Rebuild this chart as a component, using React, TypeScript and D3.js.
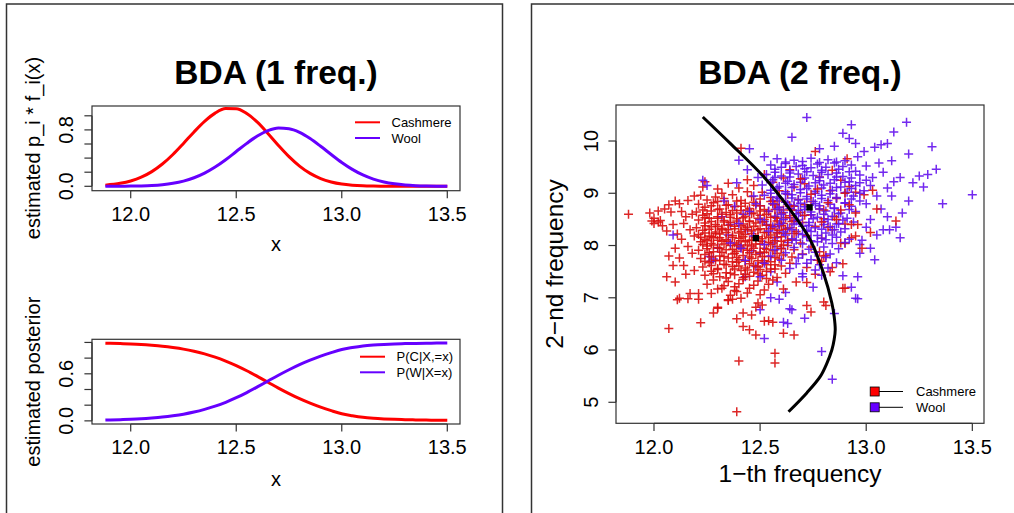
import React from "react";
import * as d3 from "d3";

const FONT = "'Liberation Sans', Arial, Helvetica, sans-serif";
const RED = "#FF0000";
const PURPLE = "#6600FF";
const SC_RED = "#DA1010";
const SC_PURPLE = "#6412EE";

const gridX = [11.88, 11.95, 12.0, 12.05, 12.1, 12.15, 12.2, 12.25, 12.3, 12.35, 12.4, 12.45, 12.5, 12.55, 12.6, 12.65, 12.7, 12.75, 12.8, 12.85, 12.9, 12.95, 13.0, 13.05, 13.1, 13.15, 13.2, 13.25, 13.3, 13.35, 13.4, 13.45, 13.5];
const cashmereDensity = [0.016, 0.042, 0.076, 0.129, 0.208, 0.316, 0.451, 0.608, 0.771, 0.921, 1.038, 1.102, 1.101, 1.032, 0.909, 0.75, 0.58, 0.421, 0.287, 0.183, 0.11, 0.062, 0.032, 0.016, 0.007, 0.003, 0.001, 0.0005, 0, 0, 0, 0, 0];
const woolDensity = [0.0003, 0.0012, 0.0028, 0.006, 0.012, 0.0235, 0.043, 0.074, 0.121, 0.187, 0.273, 0.377, 0.493, 0.609, 0.713, 0.789, 0.826, 0.817, 0.766, 0.678, 0.568, 0.451, 0.338, 0.24, 0.161, 0.102, 0.061, 0.035, 0.019, 0.0095, 0.0046, 0.0021, 0.0009];
const postCashmere = [0.99, 0.985, 0.98, 0.973, 0.963, 0.951, 0.935, 0.915, 0.888, 0.854, 0.813, 0.763, 0.705, 0.639, 0.567, 0.493, 0.418, 0.348, 0.283, 0.226, 0.175, 0.13, 0.09, 0.065, 0.045, 0.033, 0.025, 0.019, 0.015, 0.012, 0.01, 0.008, 0.007];
const postWool = [0.01, 0.015, 0.02, 0.027, 0.037, 0.049, 0.065, 0.085, 0.112, 0.146, 0.187, 0.237, 0.295, 0.361, 0.433, 0.507, 0.582, 0.652, 0.717, 0.774, 0.825, 0.87, 0.91, 0.935, 0.955, 0.967, 0.975, 0.981, 0.985, 0.988, 0.99, 0.992, 0.993];

const xTicks = [12.0, 12.5, 13.0, 13.5];
const densityYTicks = [0, 0.2, 0.4, 0.6, 0.8, 1.0];
const densityYLabels = [0, 0.8];
const postYTicks = [0, 0.2, 0.4, 0.6, 0.8, 1.0];
const postYLabels = [0, 0.6];
const densityLegend = ["Cashmere", "Wool"];
const postLegend = ["P(C|X,=x)", "P(W|X=x)"];

// ---- 2-frequency panel ----
const scatterXTicks = [12.0, 12.5, 13.0, 13.5];
const scatterYTicks = [5, 6, 7, 8, 9, 10];

const cashmere: [number, number][] = [
  [12.41, 9.86], [12.76, 9.8], [12.91, 9.66], [12.64, 9.45], [12.84, 9.44], [12.52, 9.36], [12.61, 9.29], [12.44, 9.26], [12.35, 9.19], [12.24, 9.22],
  [12.23, 9.12], [12.78, 9.31], [12.88, 9.25], [12.92, 9.13], [13.03, 9.06], [12.99, 8.97], [12.71, 9.18], [12.56, 9.21], [12.47, 9.15], [12.3, 9.08],
  [12.4, 9.1], [12.66, 9.12], [12.83, 9.05], [12.95, 9.02], [12.59, 9.05], [12.32, 9.0], [12.51, 9.02], [12.44, 9.03],
  [11.88, 8.6], [11.98, 8.62], [12.0, 8.52], [12.02, 8.66], [11.99, 8.47], [12.02, 8.45], [12.05, 8.7], [12.08, 8.64], [12.07, 8.78], [12.1, 8.85],
  [12.12, 8.8], [12.16, 8.86], [12.06, 8.28], [12.04, 8.38], [12.09, 8.4], [12.11, 8.22], [12.13, 8.12], [12.07, 7.8], [12.12, 7.76], [12.1, 7.95],
  [12.14, 7.62], [12.09, 7.62], [12.06, 7.4], [12.1, 7.3], [12.12, 6.99], [12.17, 7.08], [12.21, 7.08], [12.15, 8.55], [12.18, 8.6], [12.14, 8.42],
  [12.17, 8.3], [12.19, 8.18], [12.16, 7.98], [12.18, 7.85], [12.15, 7.45], [12.19, 7.52], [12.13, 8.65], [12.19, 8.95], [12.03, 8.48], [12.0, 8.42],
  [12.22, 8.96], [12.29, 8.93], [12.37, 8.97], [12.46, 8.94], [12.55, 8.92], [12.63, 8.98],
  [12.25, 8.87], [12.33, 8.9], [12.41, 8.86], [12.5, 8.89], [12.58, 8.85], [12.68, 8.88], [12.74, 8.84],
  [12.21, 8.79], [12.28, 8.82], [12.35, 8.78], [12.43, 8.81], [12.48, 8.77], [12.56, 8.8], [12.62, 8.83], [12.71, 8.78],
  [12.24, 8.73], [12.31, 8.7], [12.38, 8.74], [12.45, 8.71], [12.52, 8.69], [12.59, 8.73], [12.66, 8.75], [12.78, 8.7],
  [12.2, 8.64], [12.27, 8.66], [12.34, 8.63], [12.41, 8.67], [12.47, 8.62], [12.54, 8.65], [12.61, 8.68], [12.69, 8.63],
  [12.23, 8.58], [12.3, 8.55], [12.36, 8.59], [12.43, 8.56], [12.5, 8.58], [12.57, 8.54], [12.64, 8.57], [12.74, 8.59], [12.85, 8.55],
  [12.21, 8.49], [12.26, 8.52], [12.33, 8.48], [12.39, 8.51], [12.45, 8.47], [12.52, 8.5], [12.58, 8.52], [12.66, 8.48], [12.8, 8.51],
  [12.24, 8.43], [12.29, 8.4], [12.36, 8.44], [12.42, 8.41], [12.48, 8.43], [12.55, 8.39], [12.61, 8.42], [12.7, 8.44], [12.9, 8.41],
  [12.2, 8.34], [12.27, 8.36], [12.32, 8.33], [12.38, 8.37], [12.44, 8.35], [12.5, 8.32], [12.57, 8.36], [12.64, 8.34], [12.76, 8.37],
  [12.23, 8.29], [12.29, 8.26], [12.35, 8.3], [12.41, 8.27], [12.46, 8.28], [12.53, 8.25], [12.59, 8.29], [12.67, 8.27], [12.84, 8.3],
  [12.21, 8.21], [12.26, 8.18], [12.31, 8.22], [12.37, 8.19], [12.43, 8.21], [12.49, 8.17], [12.55, 8.2], [12.62, 8.23], [12.72, 8.19],
  [12.24, 8.12], [12.28, 8.15], [12.34, 8.11], [12.4, 8.14], [12.45, 8.1], [12.51, 8.13], [12.57, 8.15], [12.65, 8.11], [12.79, 8.14],
  [12.22, 8.07], [12.27, 8.04], [12.32, 8.08], [12.38, 8.05], [12.43, 8.07], [12.48, 8.03], [12.54, 8.06], [12.6, 8.08], [12.69, 8.05],
  [12.25, 7.99], [12.3, 7.96], [12.36, 8.0], [12.41, 7.97], [12.46, 7.99], [12.52, 7.95], [12.58, 7.98], [12.63, 8.0], [12.74, 7.97],
  [12.21, 7.91], [12.28, 7.88], [12.34, 7.92], [12.39, 7.89], [12.44, 7.91], [12.5, 7.87], [12.56, 7.9], [12.66, 7.92],
  [12.24, 7.83], [12.31, 7.8], [12.37, 7.84], [12.42, 7.81], [12.48, 7.83], [12.54, 7.79], [12.61, 7.82], [12.7, 7.84],
  [12.22, 7.75], [12.29, 7.72], [12.35, 7.76], [12.4, 7.73], [12.46, 7.75], [12.52, 7.71], [12.59, 7.74], [12.77, 7.72],
  [12.26, 7.67], [12.33, 7.64], [12.39, 7.68], [12.45, 7.65], [12.51, 7.67], [12.57, 7.63], [12.64, 7.66],
  [12.23, 7.59], [12.3, 7.56], [12.37, 7.6], [12.43, 7.57], [12.49, 7.59], [12.55, 7.55], [12.72, 7.58],
  [12.27, 7.51], [12.34, 7.48], [12.41, 7.52], [12.47, 7.49], [12.53, 7.51], [12.62, 7.47],
  [12.24, 7.43], [12.31, 7.4], [12.38, 7.44], [12.45, 7.41], [12.51, 7.43], [12.58, 7.39],
  [12.28, 7.34], [12.35, 7.31], [12.42, 7.35], [12.49, 7.32], [12.56, 7.34], [12.67, 7.3],
  [12.25, 7.26], [12.33, 7.23], [12.4, 7.27], [12.47, 7.24], [12.54, 7.26],
  [12.3, 7.17], [12.38, 7.14], [12.45, 7.18], [12.52, 7.15], [12.61, 7.17],
  [12.27, 7.08], [12.36, 7.05], [12.44, 7.09], [12.5, 7.06],
  [13.14, 8.47], [13.05, 8.7], [12.96, 8.4], [12.93, 8.15], [12.98, 7.95], [12.89, 7.65], [12.95, 8.62], [13.02, 8.25], [12.86, 8.9], [12.8, 8.68],
  [12.82, 8.35], [12.88, 8.05], [12.78, 7.88], [12.84, 7.58], [12.76, 7.45], [12.9, 7.18], [12.72, 7.29], [12.8, 7.8], [12.95, 8.18], [12.9, 8.04],
  [12.93, 8.4], [12.81, 7.81], [12.79, 7.7], [12.83, 7.5],
  [12.07, 6.41], [12.22, 6.52], [12.28, 6.71], [12.3, 6.82], [12.39, 6.6], [12.42, 6.45], [12.42, 6.71], [12.45, 6.39], [12.48, 6.29], [12.46, 6.67],
  [12.52, 6.55], [12.54, 6.56], [12.56, 6.53], [12.61, 6.32], [12.66, 6.29], [12.74, 6.73], [12.81, 6.85], [12.57, 5.94], [12.57, 5.75], [12.4, 5.79],
  [12.39, 4.82], [12.49, 6.9], [12.51, 6.86], [12.48, 6.82], [12.11, 6.96], [12.16, 6.98], [12.21, 6.97], [12.35, 6.95], [12.37, 6.97], [12.41, 6.99],
  [12.72, 6.85], [12.8, 6.92], [12.89, 7.18], [12.3, 6.8], [12.32, 7.18], [12.35, 6.96], [12.38, 7.21], [12.39, 7.12],
  // dense core, filling between the rows above
  [12.3, 8.84], [12.39, 8.85], [12.47, 8.83], [12.55, 8.84],
  [12.27, 8.76], [12.34, 8.77], [12.41, 8.75], [12.5, 8.76], [12.57, 8.78], [12.64, 8.76],
  [12.23, 8.68], [12.3, 8.69], [12.37, 8.67], [12.44, 8.68], [12.5, 8.66], [12.57, 8.69], [12.65, 8.68],
  [12.25, 8.61], [12.32, 8.6], [12.39, 8.62], [12.46, 8.61], [12.53, 8.6], [12.6, 8.62],
  [12.24, 8.53], [12.3, 8.52], [12.36, 8.54], [12.42, 8.53], [12.49, 8.52], [12.55, 8.54], [12.62, 8.53],
  [12.27, 8.46], [12.33, 8.45], [12.39, 8.47], [12.45, 8.46], [12.51, 8.45], [12.58, 8.47], [12.65, 8.46],
  [12.24, 8.38], [12.3, 8.37], [12.35, 8.39], [12.41, 8.38], [12.47, 8.37], [12.53, 8.39], [12.6, 8.38],
  [12.26, 8.31], [12.32, 8.3], [12.38, 8.32], [12.43, 8.31], [12.49, 8.3], [12.55, 8.32], [12.62, 8.31],
  [12.24, 8.24], [12.29, 8.23], [12.34, 8.25], [12.4, 8.24], [12.46, 8.23], [12.52, 8.25], [12.58, 8.24], [12.66, 8.23],
  [12.22, 8.16], [12.27, 8.17], [12.31, 8.15], [12.37, 8.16], [12.42, 8.17], [12.48, 8.15], [12.54, 8.16], [12.6, 8.17],
  [12.25, 8.09], [12.3, 8.1], [12.35, 8.08], [12.41, 8.09], [12.46, 8.1], [12.51, 8.08], [12.57, 8.09], [12.63, 8.1],
  [12.23, 8.02], [12.28, 8.01], [12.33, 8.03], [12.39, 8.02], [12.44, 8.01], [12.5, 8.03], [12.55, 8.02], [12.61, 8.01],
  [12.25, 7.94], [12.31, 7.95], [12.37, 7.93], [12.42, 7.94], [12.47, 7.95], [12.53, 7.93], [12.6, 7.94],
  [12.26, 7.86], [12.32, 7.87], [12.38, 7.85], [12.45, 7.86], [12.52, 7.87], [12.58, 7.85],
  [12.27, 7.78], [12.33, 7.79], [12.39, 7.77], [12.45, 7.78], [12.51, 7.79], [12.57, 7.77], [12.65, 7.78],
  [12.24, 7.7], [12.31, 7.71], [12.37, 7.69], [12.43, 7.7], [12.49, 7.71], [12.55, 7.69],
  [12.27, 7.62], [12.34, 7.63], [12.4, 7.61], [12.47, 7.62], [12.53, 7.63], [12.6, 7.61],
  [12.3, 7.54], [12.38, 7.55], [12.44, 7.53], [12.5, 7.54], [12.57, 7.55],
  [12.28, 7.46], [12.36, 7.47], [12.43, 7.45], [12.49, 7.46],
  [12.34, 7.38], [12.42, 7.39], [12.53, 7.37],
  // red crosses visible inside the wool cloud
  [12.74, 8.98], [12.82, 8.82], [12.88, 8.68], [12.71, 8.58], [12.86, 8.5], [12.77, 9.08], [12.69, 9.28], [12.9, 9.0], [12.79, 8.45], [12.92, 8.78]
];

const wool: [number, number][] = [
  [12.72, 10.45], [13.19, 10.36], [12.93, 10.31], [13.13, 10.17], [12.89, 10.15], [12.65, 10.07], [12.92, 10.05], [12.95, 9.95], [13.31, 9.89], [13.1, 9.95],
  [13.07, 9.93], [13.04, 9.88], [13.2, 9.75], [12.99, 9.8], [12.85, 9.9], [12.78, 9.85], [12.96, 9.7], [13.12, 9.62], [13.06, 9.58], [13.0, 9.52],
  [13.33, 9.46], [13.29, 9.36], [13.25, 9.33], [13.16, 9.3], [13.22, 9.2], [13.27, 9.12], [13.08, 9.4], [13.13, 9.22], [13.5, 8.97], [13.36, 8.8],
  [13.17, 8.62], [13.14, 8.35], [13.11, 8.3], [13.08, 8.3], [13.16, 8.15], [13.04, 7.73], [12.96, 7.4], [12.93, 7.2], [12.96, 6.98], [12.89, 7.42],
  [13.03, 9.3], [13.1, 9.1], [13.02, 9.15], [13.05, 8.95], [13.12, 8.95], [13.2, 8.85], [13.0, 8.8], [13.07, 8.7], [13.02, 8.5], [13.1, 8.55],
  [13.0, 8.35], [13.05, 8.2], [12.98, 8.1], [13.02, 7.95], [12.97, 7.85], [12.97, 8.02],
  [12.23, 9.25], [12.09, 8.2], [12.25, 9.15], [12.26, 7.79], [12.28, 7.74], [12.27, 7.7], [12.4, 9.63], [12.45, 9.85], [12.52, 9.7], [12.59, 6.97],
  [12.64, 6.79], [12.5, 6.77], [12.52, 6.22], [12.61, 6.53], [12.63, 6.51], [12.65, 6.77], [12.71, 6.61], [12.79, 5.97], [12.84, 5.44], [12.85, 6.7],
  [12.95, 6.99], [12.32, 8.55], [12.36, 8.4], [12.38, 8.75], [12.42, 8.6], [12.44, 8.3], [12.4, 8.0], [12.46, 7.9], [12.48, 7.6], [12.43, 7.4],
  [12.35, 8.2], [12.3, 7.95], [12.33, 8.85], [12.47, 8.95], [12.39, 9.2], [12.44, 9.45], [12.49, 9.3], [12.55, 7.5], [12.58, 7.3], [12.62, 7.1],
  [12.55, 7.0], [12.7, 7.4], [12.75, 7.2], [12.67, 7.65], [12.5, 7.85], [12.56, 8.05], [12.6, 7.95], [12.53, 8.4], [12.58, 8.25],
  [12.58, 9.66], [12.66, 9.63], [12.74, 9.67], [12.82, 9.64], [12.9, 9.62],
  [12.55, 9.54], [12.62, 9.57], [12.7, 9.53], [12.77, 9.56], [12.85, 9.58], [12.93, 9.54],
  [12.57, 9.46], [12.64, 9.43], [12.71, 9.47], [12.79, 9.44], [12.87, 9.46], [12.95, 9.42],
  [12.53, 9.36], [12.6, 9.33], [12.68, 9.37], [12.75, 9.34], [12.82, 9.36], [12.89, 9.32], [12.97, 9.35],
  [12.56, 9.26], [12.63, 9.23], [12.7, 9.27], [12.78, 9.24], [12.85, 9.26], [12.92, 9.22], [13.0, 9.25],
  [12.51, 9.16], [12.59, 9.13], [12.66, 9.17], [12.73, 9.14], [12.8, 9.16], [12.88, 9.12], [12.95, 9.15],
  [12.55, 9.06], [12.62, 9.03], [12.69, 9.07], [12.76, 9.04], [12.84, 9.06], [12.91, 9.02], [12.99, 9.05],
  [12.52, 8.96], [12.58, 8.93], [12.65, 8.97], [12.72, 8.94], [12.79, 8.96], [12.86, 8.92], [12.94, 8.95],
  [12.56, 8.86], [12.62, 8.83], [12.68, 8.87], [12.75, 8.84], [12.82, 8.86], [12.9, 8.82], [12.97, 8.85],
  [12.5, 8.76], [12.59, 8.73], [12.66, 8.77], [12.71, 8.74], [12.78, 8.76], [12.85, 8.72], [12.93, 8.75],
  [12.54, 8.66], [12.61, 8.63], [12.68, 8.67], [12.74, 8.64], [12.81, 8.66], [12.88, 8.62], [12.95, 8.65],
  [12.57, 8.56], [12.64, 8.53], [12.7, 8.57], [12.77, 8.54], [12.84, 8.56], [12.91, 8.52],
  [12.52, 8.46], [12.6, 8.43], [12.67, 8.47], [12.73, 8.44], [12.8, 8.46], [12.87, 8.42], [12.94, 8.45],
  [12.56, 8.36], [12.63, 8.33], [12.7, 8.37], [12.76, 8.34], [12.83, 8.36], [12.9, 8.32],
  [12.61, 8.26], [12.68, 8.23], [12.74, 8.27], [12.81, 8.24], [12.88, 8.26],
  [12.58, 8.16], [12.65, 8.13], [12.72, 8.17], [12.79, 8.14], [12.86, 8.16], [12.92, 8.12],
  [12.63, 8.06], [12.7, 8.03], [12.77, 8.07], [12.84, 8.04], [12.9, 8.06],
  [12.66, 7.96], [12.73, 7.93], [12.8, 7.97], [12.87, 7.94],
  [12.62, 7.86], [12.7, 7.83], [12.76, 7.87], [12.83, 7.84],
  [12.68, 7.76], [12.74, 7.73], [12.81, 7.77],
  [12.72, 7.66], [12.78, 7.63], [12.86, 7.67],
  [12.64, 7.56], [12.76, 7.53], [12.82, 7.57],
  [12.7, 7.46], [12.79, 7.43],
  // dense core, filling between the rows above
  [12.62, 9.6], [12.7, 9.61], [12.78, 9.59], [12.86, 9.6],
  [12.6, 9.5], [12.67, 9.51], [12.74, 9.49], [12.81, 9.5], [12.89, 9.51],
  [12.57, 9.4], [12.64, 9.39], [12.72, 9.41], [12.79, 9.4], [12.86, 9.39], [12.92, 9.41],
  [12.57, 9.3], [12.64, 9.31], [12.71, 9.29], [12.78, 9.3], [12.86, 9.31], [12.93, 9.29],
  [12.55, 9.2], [12.62, 9.19], [12.69, 9.21], [12.76, 9.2], [12.83, 9.19], [12.9, 9.21], [12.97, 9.2],
  [12.58, 9.1], [12.65, 9.11], [12.72, 9.09], [12.79, 9.1], [12.86, 9.11], [12.93, 9.09],
  [12.55, 9.0], [12.62, 8.99], [12.69, 9.01], [12.76, 9.0], [12.83, 8.99], [12.9, 9.01], [12.97, 9.0],
  [12.59, 8.9], [12.65, 8.91], [12.72, 8.89], [12.79, 8.9], [12.86, 8.91], [12.93, 8.89],
  [12.56, 8.8], [12.63, 8.79], [12.69, 8.81], [12.76, 8.8], [12.83, 8.79], [12.9, 8.81],
  [12.58, 8.7], [12.64, 8.71], [12.71, 8.69], [12.78, 8.7], [12.85, 8.71], [12.92, 8.69],
  [12.6, 8.6], [12.67, 8.61], [12.74, 8.59], [12.8, 8.6], [12.87, 8.61],
  [12.61, 8.5], [12.68, 8.49], [12.75, 8.51], [12.82, 8.5], [12.89, 8.49],
  [12.59, 8.4], [12.66, 8.41], [12.73, 8.39], [12.8, 8.4], [12.86, 8.41],
  [12.65, 8.3], [12.72, 8.29], [12.79, 8.31], [12.85, 8.3],
  [12.62, 8.2], [12.7, 8.21], [12.77, 8.19], [12.84, 8.2],
  [12.67, 8.1], [12.74, 8.09], [12.81, 8.11],
  // wool crosses visible inside the cashmere cloud
  [12.47, 8.18], [12.52, 8.02], [12.43, 7.72], [12.55, 7.8], [12.5, 8.5], [12.45, 8.65], [12.4, 8.42], [12.52, 7.66], [12.57, 7.92], [12.48, 8.8],
  [12.41, 7.95], [12.54, 8.28], [12.6, 7.72], [12.36, 8.05], [12.5, 7.4]
];

const boundary: [number, number][] = [
  [12.23, 10.46], [12.358, 9.96], [12.516, 9.32], [12.642, 8.68], [12.736, 8.11], [12.799, 7.47], [12.838, 6.9], [12.849, 6.64],
  [12.854, 6.39], [12.849, 6.2], [12.838, 6.0], [12.815, 5.75], [12.783, 5.49], [12.72, 5.18], [12.634, 4.82]
];
const centroids: [number, number][] = [[12.48, 8.14], [12.733, 8.73]];
const scatterLegend = ["Cashmere", "Wool"];

function Plus({ x, y, color }: { x: number; y: number; color: string }) {
  return <path d={`M${x - 4.5},${y}H${x + 4.5}M${x},${y - 4.5}V${y + 4.5}`} stroke={color} strokeWidth={1.5} opacity={0.9} />;
}

export default function App() {
  const xL = d3.scaleLinear().domain([11.8166, 13.5602]).range([92, 460]);
  const yTop = d3.scaleLinear().domain([-0.0624, 1.139]).range([190.7, 106]);
  const yBot = d3.scaleLinear().domain([-0.04, 1.04]).range([424, 339.3]);
  const xR = d3.scaleLinear().domain([11.821, 13.555]).range([616, 984]);
  const yR = d3.scaleLinear().domain([4.598, 10.689]).range([423.3, 105]);

  const lineTop = (vals: number[]) =>
    d3.line<number>().x((_, i) => xL(gridX[i])).y((v) => yTop(v)).curve(d3.curveMonotoneX)(vals) || "";
  const lineBot = (vals: number[]) =>
    d3.line<number>().x((_, i) => xL(gridX[i])).y((v) => yBot(v)).curve(d3.curveMonotoneX)(vals) || "";
  const boundaryPath =
    d3.line<[number, number]>().x((d) => xR(d[0])).y((d) => yR(d[1])).curve(d3.curveCatmullRom.alpha(0.5))(boundary) || "";

  const order = [
    ...cashmere.map((p, i) => ({ p, c: SC_RED, k: i / cashmere.length })),
    ...wool.map((p, i) => ({ p, c: SC_PURPLE, k: (i + 0.5) / wool.length })),
  ].sort((a, b) => a.k - b.k);

  const axisCol = "#333";
  const textCol = "#000";

  const xAxis = (scale: d3.ScaleLinear<number, number>, yBase: number, labelY: number, ticks: number[]) => (
    <g>
      <line x1={scale(ticks[0])} x2={scale(ticks[ticks.length - 1])} y1={yBase} y2={yBase} stroke={axisCol} strokeWidth={1.2} />
      {ticks.map((t) => (
        <g key={t}>
          <line x1={scale(t)} x2={scale(t)} y1={yBase} y2={yBase + 7.6} stroke={axisCol} strokeWidth={1.2} />
          <text x={scale(t)} y={labelY} textAnchor="middle" fontSize={20} fill={textCol}>
            {t.toFixed(1)}
          </text>
        </g>
      ))}
    </g>
  );

  const yAxis = (
    scale: d3.ScaleLinear<number, number>,
    xBase: number,
    labelX: number,
    ticks: number[],
    labels: number[],
    fmt: (v: number) => string
  ) => (
    <g>
      <line x1={xBase} x2={xBase} y1={scale(ticks[0])} y2={scale(ticks[ticks.length - 1])} stroke={axisCol} strokeWidth={1.2} />
      {ticks.map((t) => (
        <line key={t} x1={xBase - 7.6} x2={xBase} y1={scale(t)} y2={scale(t)} stroke={axisCol} strokeWidth={1.2} />
      ))}
      {labels.map((t) => (
        <text key={t} transform={`translate(${labelX},${scale(t)}) rotate(-90)`} textAnchor="middle" fontSize={20} fill={textCol}>
          {fmt(t)}
        </text>
      ))}
    </g>
  );

  return (
    <svg width={1014} height={513} style={{ position: "absolute", left: 0, top: 0, background: "#fff" }} fontFamily={FONT}>
      <rect x={0} y={0} width={1014} height={513} fill="#fff" />
      <rect x={6.5} y={4} width={496} height={600} fill="none" stroke="#333" strokeWidth={1.5} />
      <rect x={531.5} y={4} width={600} height={600} fill="none" stroke="#333" strokeWidth={1.5} />

      {/* ===== left top ===== */}
      <text x={276} y={84} textAnchor="middle" fontSize={33.5} fontWeight="bold">BDA (1 freq.)</text>
      <rect x={92} y={106} width={368} height={84.7} fill="none" stroke={axisCol} strokeWidth={1.2} />
      <path d={lineTop(cashmereDensity)} fill="none" stroke={RED} strokeWidth={3} />
      <path d={lineTop(woolDensity)} fill="none" stroke={PURPLE} strokeWidth={3} />
      {xAxis(xL, 190.7, 220.5, xTicks)}
      {yAxis(yTop, 92, 73, densityYTicks, densityYLabels, (v) => v.toFixed(1))}
      <text x={276} y={251} textAnchor="middle" fontSize={20}>x</text>
      <text transform="translate(40,148) rotate(-90)" textAnchor="middle" fontSize={20}>estimated p_i * f_i(x)</text>
      {densityLegend.map((s, i) => (
        <g key={s}>
          <line x1={355} x2={380} y1={122.3 + i * 15.7} y2={122.3 + i * 15.7} stroke={i === 0 ? RED : PURPLE} strokeWidth={2} />
          <text x={391.5} y={127 + i * 15.7} fontSize={13}>{s}</text>
        </g>
      ))}

      {/* ===== left bottom ===== */}
      <rect x={92} y={339.3} width={368} height={84.7} fill="none" stroke={axisCol} strokeWidth={1.2} />
      <path d={lineBot(postCashmere)} fill="none" stroke={RED} strokeWidth={3} />
      <path d={lineBot(postWool)} fill="none" stroke={PURPLE} strokeWidth={3} />
      {xAxis(xL, 424, 454, xTicks)}
      {yAxis(yBot, 92, 73, postYTicks, postYLabels, (v) => v.toFixed(1))}
      <text x={276} y={486} textAnchor="middle" fontSize={20}>x</text>
      <text transform="translate(40,381.7) rotate(-90)" textAnchor="middle" fontSize={20}>estimated posterior</text>
      {postLegend.map((s, i) => (
        <g key={s}>
          <line x1={360} x2={385} y1={356.7 + i * 15.6} y2={356.7 + i * 15.6} stroke={i === 0 ? RED : PURPLE} strokeWidth={2} />
          <text x={396.5} y={361.4 + i * 15.6} fontSize={13}>{s}</text>
        </g>
      ))}

      {/* ===== right scatter ===== */}
      <text x={800} y={84} textAnchor="middle" fontSize={33.5} fontWeight="bold">BDA (2 freq.)</text>
      {order.map((d, i) => (
        <Plus key={i} x={xR(d.p[0])} y={yR(d.p[1])} color={d.c} />
      ))}
      <path d={boundaryPath} fill="none" stroke="#000" strokeWidth={3} />
      {centroids.map((c, i) => (
        <rect key={i} x={xR(c[0]) - 3.2} y={yR(c[1]) - 3.2} width={6.4} height={6.4} fill="#000" />
      ))}
      <rect x={616} y={105} width={368} height={318.3} fill="none" stroke={axisCol} strokeWidth={1.2} />
      {xAxis(xR, 423.3, 454, scatterXTicks)}
      {yAxis(yR, 616, 598, scatterYTicks, scatterYTicks, (v) => String(v))}
      <text x={800} y={481.5} textAnchor="middle" fontSize={24.5}>1−th frequency</text>
      <text transform="translate(563,264) rotate(-90)" textAnchor="middle" fontSize={24.5}>2−nd frequency</text>
      {scatterLegend.map((s, i) => (
        <g key={s}>
          <line x1={879} x2={903} y1={391.5 + i * 15.8} y2={391.5 + i * 15.8} stroke="#000" strokeWidth={1} />
          <rect x={870.2} y={387} width={9} height={9} transform={`translate(0,${i * 15.8})`} fill={i === 0 ? RED : PURPLE} stroke="#000" strokeWidth={0.8} />
          <text x={916} y={396 + i * 15.8} fontSize={13}>{s}</text>
        </g>
      ))}
    </svg>
  );
}
